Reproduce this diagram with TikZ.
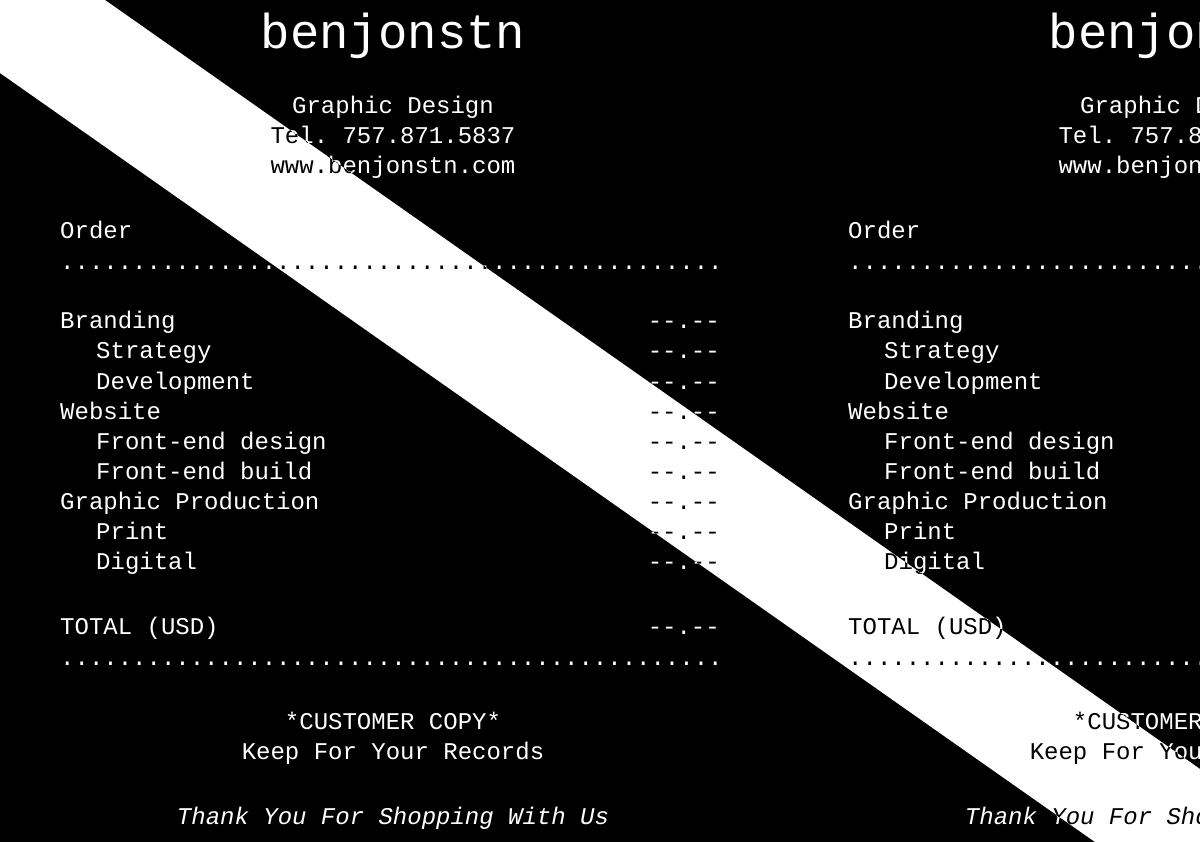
\documentclass[tikz,border=0pt]{standalone}
\usepackage{fontspec}
\setmonofont{Liberation Mono}
\newcommand\myreceipt[1]{%
\begin{scope}[xshift=#1, every node/.style={inner sep=0pt, text height=17pt, text depth=5pt, font=\ttfamily\fontsize{24}{24}\selectfont, text=\txtcol}]
\node[font=\ttfamily\fontsize{49}{49}\selectfont, text height=35pt, text depth=10pt] (title) at (393,36) {benjonstn};
\node (gd) at (393,108) {Graphic Design};
\node (tel) at (393,138) {Tel. 757.871.5837};
\node (www) at (393,168) {www.benjonstn.com};
\node[anchor=west] (order) at (60,233) {Order};
\node[anchor=west] (d1) at (60,264) {..............................................};
\foreach \t/\x/\y [count=\i] in {Branding/60/323, Strategy/96/353, Development/96/383, Website/60/413, Front-end design/96/443, Front-end build/96/473, Graphic Production/60/503, Print/96/533, Digital/96/563, TOTAL (USD)/60/628}{
  \node[anchor=west] (item\i) at (\x,\y) {\t};
  \node[anchor=east] (price\i) at (720,\y) {--.--};
}
\node[anchor=west] (d2) at (60,659) {..............................................};
\node (cc) at (393,723) {*CUSTOMER COPY*};
\node (keep) at (393,753) {Keep For Your Records};
\node[font=\ttfamily\itshape\fontsize{24}{24}\selectfont] (thanks) at (393,818) {Thank You For Shopping With Us};
\end{scope}}
\begin{document}
\begin{tikzpicture}[x=1pt,y=-1pt]
\useasboundingbox (0,0) rectangle (1200,842);
\clip (0,0) rectangle (1200,842);
\fill[black] (0,0) rectangle (1200,842);
\def\txtcol{white}
\myreceipt{0}
\myreceipt{788}
\fill[white] (105,0) -- (1200,769) -- (1200,842) -- (1095,842) -- (0,73) -- (0,0) -- cycle;
\begin{scope}
\clip (105,0) -- (1200,769) -- (1200,842) -- (1095,842) -- (0,73) -- (0,0) -- cycle;
\def\txtcol{black}
\myreceipt{0}
\myreceipt{788}
\end{scope}
\end{tikzpicture}
\end{document}
